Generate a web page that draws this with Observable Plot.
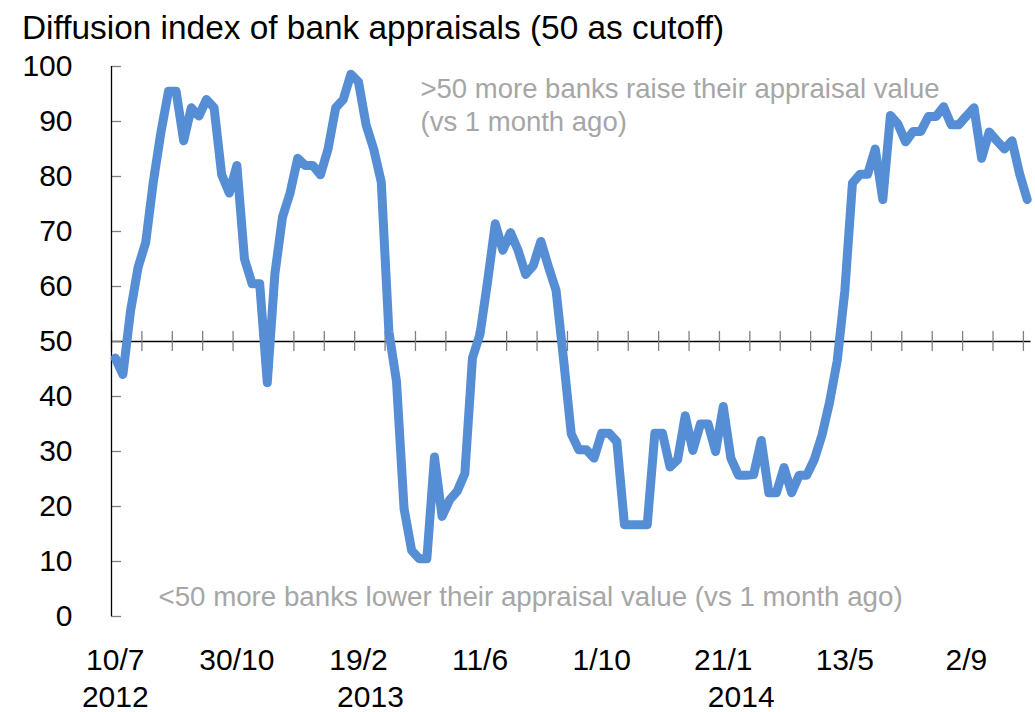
<!DOCTYPE html>
<html><head><meta charset="utf-8">
<script src="https://cdn.jsdelivr.net/npm/d3@7"></script>
<script src="https://cdn.jsdelivr.net/npm/@observablehq/plot@0.6"></script>
<style>
body{margin:0;background:#fff;font-family:"Liberation Sans",Arial,sans-serif;}
#title{position:relative;z-index:1;height:40px;overflow:visible;font-size:33.4px;line-height:33px;padding-left:22px;padding-top:11px;box-sizing:border-box;color:#000;white-space:nowrap;}
#chart svg{display:block;}
</style></head><body>
<div id="title">Diffusion index of bank appraisals (50 as cutoff)</div>
<div id="chart"></div>
<script>
// weekly observations starting 10 July 2012
const startDate = "2012-07-10";
const values = [
  47, 44, 55.5, 63.5, 68, 79, 88, 95.5, 95.5, 86.5,
  92.5, 91, 94, 92.5, 80.3, 77, 82, 65, 60.5, 60.5,
  42.5, 62.3, 72.6, 77, 83.3, 82, 82, 80.3, 85, 92.5,
  94, 98.6, 97.2, 89.4, 85, 79, 51.8, 42.8, 19.6, 12,
  10.5, 10.5, 29, 18.2, 21.2, 22.8, 26, 47, 51.4, 61,
  71.4, 66.6, 69.8, 66.6, 62.2, 63.8, 68.2, 63.6, 59.3, 46.6,
  33.2, 30.3, 30.3, 28.8, 33.3, 33.3, 31.8, 16.7, 16.7, 16.7,
  16.7, 33.3, 33.3, 27.2, 28.5, 36.5, 30.2, 35, 35, 30,
  38.2, 28.8, 25.7, 25.7, 25.8, 32, 22.5, 22.5, 27.1, 22.5,
  25.7, 25.7, 28.6, 33, 39, 46.5, 59.2, 78.8, 80.4, 80.4,
  85, 75.8, 91.1, 89.5, 86.3, 88.2, 88.2, 90.9, 90.9, 92.7,
  89.4, 89.4, 91, 92.5, 83.3, 88.1, 86.5, 85, 86.5, 80.5,
  75.8
];
const dateLabels = ["10/7", "30/10", "19/2", "11/6", "1/10", "21/1", "13/5", "2/9"];
const labelDates = ["2012-07-10", "2012-10-30", "2013-02-19", "2013-06-11", "2013-10-01", "2014-01-21", "2014-05-13", "2014-09-02"];
const yearLabels = ["2012", "2013", "2014"];
const yearUnder = ["2012-07-10", "2013-02-19", "2014-01-21"];
const yTicks = [0, 10, 20, 30, 40, 50, 60, 70, 80, 90, 100];
const cutoff = 50;
const upperNote = ">50 more banks raise their appraisal value\n(vs 1 month ago)";
const lowerNote = "<50 more banks lower their appraisal value (vs 1 month ago)";

const t0 = new Date(startDate);
const weekAt = (w) => d3.utcHour.offset(t0, Math.round(168 * w));
const data = values.map((v, i) => ({date: weekAt(i), value: v}));
const xMin = weekAt(-0.5);
const xMax = weekAt(values.length - 0.5);
const boundaries = d3.range(-0.5, values.length, 4).map(weekAt);

const yearDx = [0, 12, 18];
const gray = "#808080";
const noteColor = "#A6A6A6";

const chart = Plot.plot({
  width: 1035,
  height: 672,
  marginTop: 26,
  marginBottom: 96,
  marginLeft: 111,
  marginRight: 4.5,
  style: {fontFamily: "'Liberation Sans', Arial, sans-serif", background: "transparent"},
  x: {type: "utc", domain: [xMin, xMax], axis: null},
  y: {domain: [0, 100], axis: null},
  marks: [
    Plot.ruleY([cutoff], {stroke: "#000", strokeWidth: 1.3}),
    Plot.ruleX(boundaries, {x: d => d, y1: cutoff, y2: cutoff, insetTop: -10, insetBottom: -10, stroke: gray, strokeWidth: 1.3}),
    Plot.ruleY(yTicks, {y: d => d, x1: xMin, x2: xMin, insetRight: -10, stroke: gray, strokeWidth: 1.3}),
    Plot.ruleX([xMin], {stroke: "#000", strokeWidth: 1.3}),
    Plot.axisY(yTicks, {label: null, tickSize: 0, tickPadding: 39, fontSize: 30, fill: "#000", tickFormat: d => String(d)}),
    Plot.line(data, {x: "date", y: "value", stroke: "#558ED5", strokeWidth: 9, strokeLinejoin: "round", strokeLinecap: "round"}),
    Plot.text(labelDates.map(d => new Date(d)), {x: d => d, text: (d, i) => dateLabels[i], frameAnchor: "bottom", dy: 53, fontSize: 30, fill: "#000"}),
    ...yearLabels.map((yl, i) => Plot.text([yl], {x: () => new Date(yearUnder[i]), text: d => d, frameAnchor: "bottom", dy: 90, dx: yearDx[i], fontSize: 30, fill: "#000"})),
    Plot.text([upperNote], {text: d => d, frameAnchor: "top-left", textAnchor: "start", lineAnchor: "top", dx: 309, dy: 8, fontSize: 27.5, lineHeight: 1.2, fill: noteColor}),
    Plot.text([lowerNote], {text: d => d, frameAnchor: "bottom-left", textAnchor: "start", lineAnchor: "middle", dx: 47, dy: -19, fontSize: 27.7, fill: noteColor})
  ]
});
document.getElementById("chart").appendChild(chart);
</script>
</body></html>
